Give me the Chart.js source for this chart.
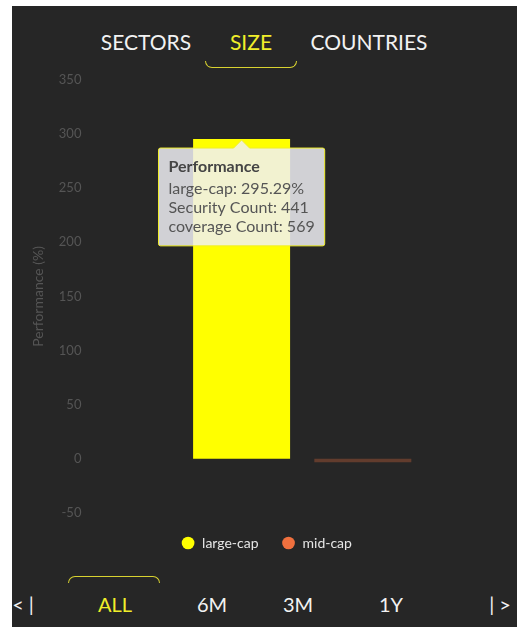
<!DOCTYPE html>
<html>
<head>
<meta charset="utf-8">
<script src="https://cdn.jsdelivr.net/npm/chart.js@4.4.1/dist/chart.umd.min.js"></script>
<style>
  body { margin: 0; background: #fff; font-family: Lato, "Noto Sans", sans-serif; }
  #panel { position: absolute; left: 12px; top: 6px; width: 505px; height: 621px; background: #262626; overflow: hidden; }
  .tab { position: absolute; color: #f2f2f2; font-size: 21px; transform: translateX(-50%); white-space: nowrap; }
  .tab.on { color: #f0ee2a; }
  .bottom .tab { font-size: 20px; top: 586px; }
  .line { position: absolute; height: 6px; border: 1.5px solid #d8d230; border-radius: 8px; }
  #chartBox { position: absolute; left: 0; top: 58px; width: 505px; height: 496px; }
</style>
</head>
<body>
<div id="panel">
  <div class="tab" style="left:134px;top:23px">SECTORS</div>
  <div class="tab on" style="left:239px;top:23px">SIZE</div>
  <div class="tab" style="left:357px;top:23px">COUNTRIES</div>
  <div class="line" style="left:193px;top:55px;width:90px;border-top:none;border-radius:0 0 8px 8px"></div>

  <div id="chartBox"><canvas id="sizeChart"></canvas></div>

  <div class="line" style="left:56px;top:570px;width:90px;border-bottom:none;border-radius:8px 8px 0 0"></div>
  <div class="bottom">
    <div class="tab" style="left:11px">&lt; |</div>
    <div class="tab on" style="left:103px">ALL</div>
    <div class="tab" style="left:200px">6M</div>
    <div class="tab" style="left:286px">3M</div>
    <div class="tab" style="left:379px">1Y</div>
    <div class="tab" style="left:488px">| &gt;</div>
  </div>
</div>
<script>
const labels = ['Performance'];
const sizeNames = ['large-cap', 'mid-cap'];
const performance = [295.29, -3.1];
const securityCounts = [441, 312];
const coverageCounts = [569, 401];
const barColors = ['#ffff00', 'rgba(240, 112, 62, 0.3)'];
const legendColors = ['#ffff00', '#f0703e'];
const yTicks = [-50, 0, 50, 100, 150, 200, 250, 300, 350];

const datasets = sizeNames.map((name, i) => ({
    label: name,
    data: [performance[i]],
    backgroundColor: barColors[i],
    borderColor: barColors[i],
    borderWidth: 0,
    barPercentage: 0.8,
    categoryPercentage: 0.592
}));

const chart = new Chart(document.getElementById('sizeChart'), {
    type: 'bar',
    data: { labels: labels, datasets: datasets },
    options: {
        responsive: true,
        maintainAspectRatio: false,
        animation: false,
        events: [],
        layout: { padding: { top: 0, right: 10, bottom: 0, left: 14 } },
        scales: {
            x: { display: false },
            y: {
                min: -50,
                max: 350,
                grid: { display: false },
                border: { display: false },
                afterBuildTicks: axis => { axis.ticks = yTicks.map(v => ({ value: v })); },
                ticks: { color: '#555', font: { family: 'Lato', size: 13 }, padding: 8 },
                title: { display: true, text: 'Performance (%)', color: '#555', font: { family: 'Lato', size: 14 } }
            }
        },
        plugins: {
            legend: {
                position: 'bottom',
                labels: {
                    usePointStyle: true,
                    pointStyle: 'circle',
                    boxWidth: 14,
                    boxHeight: 9,
                    padding: 23,
                    color: '#e6e6e6',
                    font: { family: 'Lato', size: 14 },
                    generateLabels: c => c.data.datasets.map((d, i) => ({
                        text: d.label,
                        fillStyle: legendColors[i],
                        strokeStyle: legendColors[i],
                        lineWidth: 0,
                        pointStyle: 'circle',
                        fontColor: '#e6e6e6',
                        datasetIndex: i
                    }))
                }
            },
            tooltip: {
                yAlign: 'top',
                xAlign: 'center',
                backgroundColor: 'rgba(240, 240, 245, 0.85)',
                borderColor: '#f0ee2a',
                borderWidth: 1,
                titleColor: '#444',
                bodyColor: '#555',
                titleFont: { family: 'Lato', size: 16, weight: 'bold' },
                bodyFont: { family: 'Lato', size: 16 },
                titleMarginBottom: 3,
                bodySpacing: 0,
                padding: { x: 10, y: 9 },
                caretSize: 8,
                caretPadding: 1,
                cornerRadius: 2,
                displayColors: false,
                callbacks: {
                    label: ctx => `${ctx.dataset.label}: ${ctx.parsed.y}%`,
                    afterLabel: ctx => [
                        `Security Count: ${securityCounts[ctx.datasetIndex]}`,
                        `coverage Count: ${coverageCounts[ctx.datasetIndex]}`
                    ]
                }
            }
        }
    }
});

const bar = chart.getDatasetMeta(0).data[0];
chart.tooltip.setActiveElements([{ datasetIndex: 0, index: 0 }], { x: bar.x, y: bar.y });
chart.update();
</script>
</body>
</html>
